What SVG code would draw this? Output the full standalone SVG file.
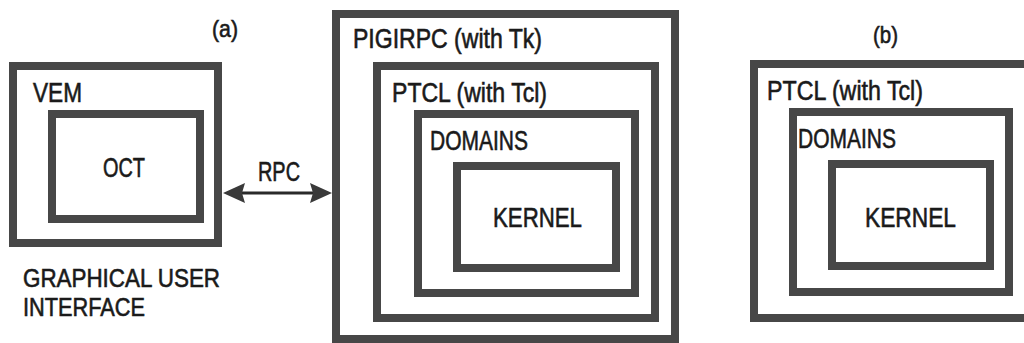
<svg xmlns="http://www.w3.org/2000/svg" width="1024" height="343" viewBox="0 0 1024 343">
<style>
.box{fill:none;stroke:#474747;stroke-width:8}
.t{font-family:"Liberation Sans",Arial,sans-serif;font-size:27px;fill:#1a1a1a;stroke:#1a1a1a;stroke-width:0.6}
.conn{stroke:#2a2a2a;stroke-width:3;fill:none}
.head{fill:#3a3a3a}
</style>
<rect width="1024" height="343" fill="#ffffff"/>
<text class="t" x="212" y="37" textLength="26" lengthAdjust="spacingAndGlyphs" style="font-size:24px">(a)</text>
<text class="t" x="873" y="43" textLength="25" lengthAdjust="spacingAndGlyphs" style="font-size:24px">(b)</text>
<g id="vem">
<rect class="box" x="13" y="66" width="205" height="177"/>
<text class="t" x="33" y="102" textLength="49" lengthAdjust="spacingAndGlyphs">VEM</text>
</g>
<g id="oct">
<rect class="box" x="52" y="114" width="148" height="105"/>
<text class="t" x="103" y="177" textLength="42" lengthAdjust="spacingAndGlyphs">OCT</text>
</g>
<g id="gui-label">
<text class="t" x="23" y="287" textLength="197" lengthAdjust="spacingAndGlyphs" style="font-size:25px">GRAPHICAL USER</text>
<text class="t" x="23" y="316" textLength="122" lengthAdjust="spacingAndGlyphs" style="font-size:25px">INTERFACE</text>
</g>
<g id="pigirpc">
<rect class="box" x="336" y="14" width="339" height="325"/>
<text class="t" x="353" y="48" textLength="189" lengthAdjust="spacingAndGlyphs">PIGIRPC (with Tk)</text>
</g>
<g id="ptcl-a">
<rect class="box" x="377" y="66" width="278" height="252"/>
<text class="t" x="392" y="102" textLength="155" lengthAdjust="spacingAndGlyphs">PTCL (with Tcl)</text>
</g>
<g id="domains-a">
<rect class="box" x="418" y="114" width="217" height="179"/>
<text class="t" x="430" y="150" textLength="98" lengthAdjust="spacingAndGlyphs">DOMAINS</text>
</g>
<g id="kernel-a">
<rect class="box" x="457" y="166" width="159" height="102"/>
<text class="t" x="493" y="227" textLength="89" lengthAdjust="spacingAndGlyphs">KERNEL</text>
</g>
<g id="ptcl-b">
<rect class="box" x="754" y="64" width="274" height="254"/>
<text class="t" x="767" y="100" textLength="156" lengthAdjust="spacingAndGlyphs">PTCL (with Tcl)</text>
</g>
<g id="domains-b">
<rect class="box" x="793" y="112" width="216" height="180"/>
<text class="t" x="798" y="148" textLength="98" lengthAdjust="spacingAndGlyphs">DOMAINS</text>
</g>
<g id="kernel-b">
<rect class="box" x="832" y="164" width="158" height="102"/>
<text class="t" x="865" y="227" textLength="91" lengthAdjust="spacingAndGlyphs">KERNEL</text>
</g>
<g id="connectors">
<line class="conn" x1="240" y1="193" x2="315" y2="193"/>
<polygon class="head" points="223,193 245,183 242,193 245,203"/>
<polygon class="head" points="332,193 310,183 313,193 310,203"/>
<text class="t" x="258" y="181" textLength="42" lengthAdjust="spacingAndGlyphs">RPC</text>
</g>
</svg>
